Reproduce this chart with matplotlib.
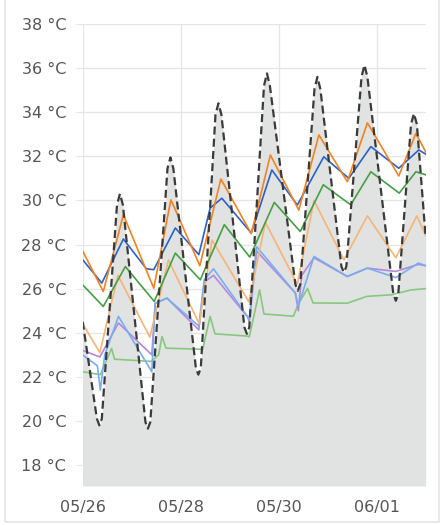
import matplotlib
matplotlib.use("Agg")
import matplotlib.pyplot as plt
import matplotlib.dates as mdates
import pandas as pd
from matplotlib.patches import Rectangle

start = pd.Timestamp("2024-05-26")
x_ticks = ["2024-05-26", "2024-05-28", "2024-05-30", "2024-06-01"]
y_ticks = [18, 20, 22, 24, 26, 28, 30, 32, 34, 36, 38]

# Outdoor temperature (dashed, filled) - day offsets and values
out_d = [0.0, 0.29, 0.34, 0.39, 0.70, 0.76, 0.82, 1.28, 1.33, 1.38, 1.73, 1.79, 1.85,
         2.31, 2.36, 2.41, 2.71, 2.77, 2.83, 3.30, 3.35, 3.40, 3.70, 3.76, 3.82,
         4.34, 4.39, 4.44, 4.73, 4.79, 4.85, 5.28, 5.33, 5.38, 5.69, 5.75, 5.81,
         6.34, 6.39, 6.44, 6.70, 6.76, 6.82, 7.0]
out_t = [24.5, 20.1, 19.8, 20.1, 29.8, 30.3, 29.8, 19.95, 19.65, 19.95, 31.45, 31.95, 31.45,
         22.4, 22.1, 22.4, 33.9, 34.4, 33.9, 24.25, 23.95, 24.25, 35.2, 35.76, 35.2,
         26.2, 25.9, 26.2, 35.05, 35.6, 35.05, 27.0, 26.74, 27.0, 35.6, 36.14, 35.6,
         25.75, 25.45, 25.75, 33.45, 33.94, 33.45, 28.3]

orange_d = [0.0, 0.42, 0.83, 1.45, 1.80, 2.39, 2.82, 3.44, 3.83, 4.41, 4.82, 5.40, 5.81, 6.45, 6.80, 7.0]
orange_t = [27.7, 25.87, 29.35, 26.02, 30.03, 27.04, 30.97, 28.49, 32.06, 29.56, 32.97, 30.85, 33.52, 31.11, 33.04, 32.2]

blue_d = [0.0, 0.39, 0.83, 1.30, 1.45, 1.89, 2.37, 2.60, 2.84, 3.44, 3.86, 4.38, 4.92, 5.43, 5.88, 6.45, 6.86, 7.0]
blue_t = [27.31, 26.25, 28.25, 26.9, 26.86, 28.75, 27.54, 29.65, 30.1, 28.52, 31.38, 29.79, 31.98, 31.0, 32.44, 31.46, 32.29, 32.1]

green_d = [0.0, 0.42, 0.87, 1.46, 1.89, 2.40, 2.89, 3.41, 3.91, 4.44, 4.91, 5.47, 5.88, 6.46, 6.80, 7.0]
green_t = [26.17, 25.19, 27.0, 25.42, 27.61, 26.4, 28.9, 27.43, 29.91, 28.59, 30.71, 29.8, 31.3, 30.33, 31.3, 31.16]

lorange_d = [0.0, 0.35, 0.72, 1.37, 1.75, 2.38, 2.64, 3.39, 3.73, 4.38, 4.72, 5.33, 5.81, 6.39, 6.82, 7.0]
lorange_t = [24.4, 23.1, 26.6, 23.8, 27.3, 24.4, 28.2, 25.4, 29.0, 26.2, 30.0, 27.3, 29.3, 27.4, 29.3, 28.4]

lblue_d = [0.0, 0.30, 0.36, 0.45, 0.73, 1.41, 1.48, 1.72, 2.37, 2.48, 2.67, 3.36, 3.40, 3.55, 4.34, 4.40, 4.72, 5.40, 5.81, 6.39, 6.85, 7.0]
lblue_t = [22.99, 22.5, 21.4, 23.0, 24.74, 22.23, 25.34, 25.57, 24.3, 26.4, 26.9, 24.74, 24.6, 27.9, 25.8, 25.2, 27.46, 26.55, 26.93, 26.5, 27.16, 27.04]

purple_d = [0.0, 0.35, 0.73, 1.41, 1.48, 1.72, 2.37, 2.48, 2.67, 3.36, 3.40, 3.55, 4.34, 4.40, 4.47, 4.72, 5.40, 5.81, 6.39, 6.85, 7.0]
purple_t = [23.2, 22.9, 24.44, 23.0, 25.34, 25.57, 24.13, 26.3, 26.6, 24.74, 24.5, 27.7, 25.8, 25.0, 26.6, 27.4, 26.55, 26.93, 26.78, 27.1, 27.04]

lgreen_d = [0.0, 0.36, 0.59, 0.65, 1.40, 1.55, 1.62, 1.70, 2.45, 2.60, 2.70, 3.35, 3.40, 3.61, 3.70, 4.30, 4.40, 4.59, 4.70, 5.40, 5.80, 6.30, 6.70, 7.0]
lgreen_t = [22.23, 22.1, 23.29, 22.8, 22.7, 23.0, 23.83, 23.3, 23.25, 24.74, 23.95, 23.85, 23.82, 25.94, 24.85, 24.75, 25.3, 26.01, 25.35, 25.34, 25.65, 25.72, 25.94, 26.0]


def tx(days):
    return start + pd.to_timedelta(days, unit="D")


fig = plt.figure(figsize=(4.43, 5.25), dpi=100)
ax = fig.add_axes([82.7 / 443, 1 - 486 / 525, (425.7 - 82.7) / 443, (486 - 24) / 525])

ymin, ymax = 17.05, 38.0
ax.fill_between(tx(out_d), ymin, out_t, color="#e1e2e2", lw=0, zorder=1)

series = [
    (lgreen_d, lgreen_t, "#86c97e"),
    (purple_d, purple_t, "#b487e0"),
    (lblue_d, lblue_t, "#78aef0"),
    (lorange_d, lorange_t, "#f5b574"),
    (green_d, green_t, "#45a043"),
    (blue_d, blue_t, "#2a62c9"),
    (orange_d, orange_t, "#f5821f"),
]
for d, t, c in series:
    ax.plot(tx(d), t, color=c, lw=1.2, zorder=3)

ax.plot(tx(out_d), out_t, color="#3a3a3a", lw=1.6, ls=(0, (3.6, 1.9)), zorder=4)

ax.set_ylim(ymin, ymax)
ax.set_xlim(tx(0.0), tx(7.0))
ax.set_yticks(y_ticks)
ax.set_yticklabels([f"{v} °C" for v in y_ticks])
ax.set_xticks(pd.to_datetime(x_ticks))
ax.xaxis.set_major_formatter(mdates.DateFormatter("%m/%d"))
ax.grid(True, color="#e6e6e6", lw=1, zorder=0)
ax.set_axisbelow(True)
for s in ax.spines.values():
    s.set_visible(False)
ax.tick_params(axis="y", length=5, color="#e6e6e6", pad=7, labelsize=11.5, labelcolor="#555555")
ax.tick_params(axis="x", length=0, pad=10, labelsize=11.5, labelcolor="#555555")

fig.patches.append(Rectangle((0.012, 0.005), 0.98, 1.2, transform=fig.transFigure,
                             fill=False, edgecolor="#e4e4e4", lw=1.2, zorder=0))

fig.savefig("out.png", dpi=100)
